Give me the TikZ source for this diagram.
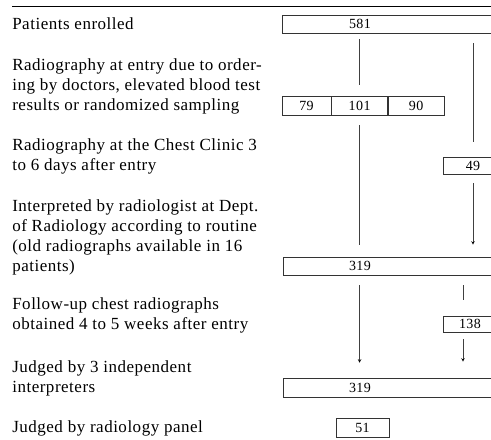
\documentclass[tikz,border=0pt]{standalone}
\usepackage{fontspec}
\setmainfont[LetterSpace=3]{Liberation Serif}
\usetikzlibrary{positioning}

\begin{document}
\begin{tikzpicture}[
                          x=1pt, y=-1pt,
                          >=stealth,
                          line width=0.6pt,
                          every node/.style={inner sep=0pt},
                          box/.style={draw=black!80, minimum height=18pt,
                            font=\fontsize{14}{14}\selectfont},
                          count/.style={font=\fontsize{14}{14}\selectfont},
                          steplabel/.style={anchor=north west, align=left,
                            font=\fontsize{17}{20}\selectfont},
                          link/.style={draw=black!75}]
                      \useasboundingbox (0,0) rectangle (491,440);
                      \clip (0,0) rectangle (491,440);
                      \draw (12,6) -- (491,6);
                      % row labels
                      \node[steplabel] (l_enrolled) at (12,17.3) {Patients enrolled};
                      \node[steplabel] (l_entry) at (12,58.8) {Radiography at entry due to order-\\ing by doctors, elevated blood test\\results or randomized sampling};
                      \node[steplabel] (l_clinic) at (12,138.8) {Radiography at the Chest Clinic 3\\to 6 days after entry};
                      \node[steplabel] (l_routine) at (12,199.3) {Interpreted by radiologist at Dept.\\of Radiology according to routine\\(old radiographs available in 16\\patients)};
                      \node[steplabel] (l_followup) at (12,297.3) {Follow-up chest radiographs\\obtained 4 to 5 weeks after entry};
                      \node[steplabel] (l_judged) at (12,360.8) {Judged by 3 independent\\interpreters};
                      \node[steplabel] (l_panel) at (12,420.8) {Judged by radiology panel};
                      % counts
                      \node[box, minimum width=218pt] (enrolled) at (391,24) {};
                      \node[count] (c_enrolled) at (360,24) {581};
                      \node[box, minimum width=49pt, minimum height=19pt] (entry_a) at (306.5,105.5) {79};
                      \node[box, minimum width=56pt, minimum height=19pt] (entry_b) [right=0pt of entry_a] {101};
                      \node[box, minimum width=56pt, minimum height=19pt] (entry_c) [right=0pt of entry_b] {90};
                      \node[box, minimum width=60pt, minimum height=17pt] (clinic) at (473,165.5) {49};
                      \node[box, minimum width=217pt] (routine) at (391.5,266) {};
                      \node[count] (c_routine) at (360,266) {319};
                      \node[box, minimum width=54pt, minimum height=16pt] (followup) at (470,324) {138};
                      \node[box, minimum width=217pt, minimum height=19pt] (judged) at (391.5,387.5) {};
                      \node[count] (c_judged) at (360,387.5) {319};
                      \node[box, minimum width=53pt, minimum height=19pt] (panel) at (362.5,427.5) {51};
                      \coordinate (follow_rail) at (463,0);
                      \path[link]
                      (enrolled.south -| entry_b) edge[shorten <=6pt, shorten >=11pt] (entry_b.north)
                      (enrolled.south -| clinic) edge[shorten <=10pt, shorten >=15pt] (clinic.north)
                      (entry_b) edge[shorten <=10pt, shorten >=12pt] (routine.north -| entry_b)
                      (clinic) edge[->, shorten <=9pt, shorten >=12pt] (routine.north -| clinic)
                      (routine.south -| entry_b) edge[->, shorten <=10pt, shorten >=15pt] (judged.north -| entry_b)
                      (routine.south -| follow_rail) edge[shorten <=10pt, shorten >=16pt] (followup.north -| follow_rail)
                      (followup.south -| follow_rail) edge[->, shorten <=7pt, shorten >=16pt] (judged.north -| follow_rail)
                      ;
                  \end{tikzpicture}
\end{document}
